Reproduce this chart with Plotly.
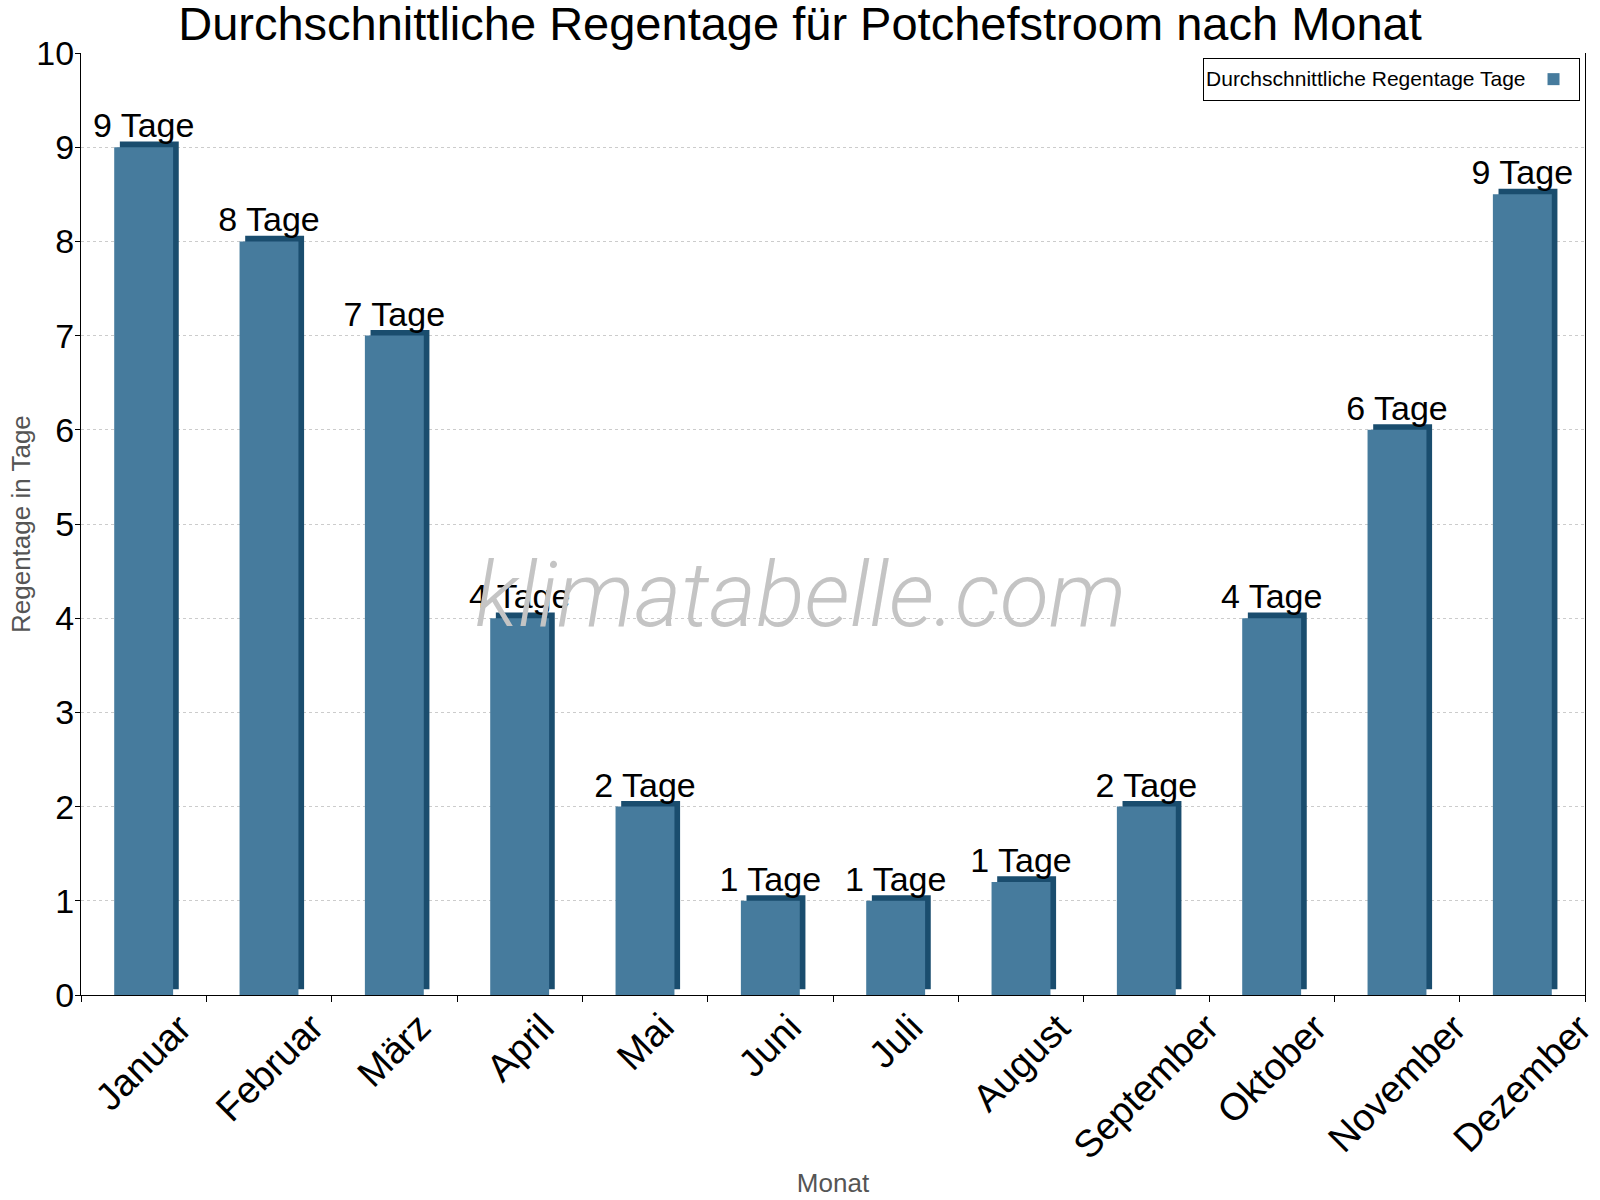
import plotly.graph_objects as go

months = ["Januar", "Februar", "März", "April", "Mai", "Juni", "Juli",
          "August", "September", "Oktober", "November", "Dezember"]
rain_days = [9, 8, 7, 4, 2, 1, 1, 1.2, 2, 4, 6, 8.5]
labels = [f"{int(v + 0.5)} Tage" for v in rain_days]

FRONT = "#467B9D"
SIDE = "#1A4D6E"
FONT = "Arial, Liberation Sans, sans-serif"

bar_w = 0.47
depth_x = 0.045   # category units (~6 px)
depth_y = 0.06    # value units (~6 px)

fig = go.Figure()
# dark "3D" side/top face
fig.add_trace(go.Bar(
    x=months, y=rain_days, base=depth_y,
    width=bar_w, offset=-bar_w / 2 + depth_x,
    marker=dict(color=SIDE, line=dict(width=0)),
    showlegend=False, hoverinfo="skip",
))
# front face
fig.add_trace(go.Bar(
    x=months, y=rain_days, name="",
    width=bar_w, offset=-bar_w / 2,
    marker=dict(color=FRONT, line=dict(width=0)),
    text=labels, textposition="outside", cliponaxis=False,
    constraintext="none",
    textfont=dict(size=34, color="black", family=FONT),
    showlegend=True,
))

# rotated month labels, centred under each category (as in the reference)
month_labels = [
    dict(text=m, x=m, xref="x", y=0, yref="paper", yshift=-8,
         xanchor="center", yanchor="top", textangle=-45, showarrow=False,
         font=dict(size=38, color="black", family=FONT))
    for m in months
]

fig.update_layout(
    width=1600, height=1200,
    barmode="overlay",
    paper_bgcolor="white", plot_bgcolor="white",
    margin=dict(l=81, r=15, t=53, b=205, autoexpand=False),
    font=dict(family=FONT, color="black"),
    title=dict(text="Durchschnittliche Regentage für Potchefstroom nach Monat",
               x=0.5, xanchor="center", y=0.980, yanchor="middle",
               font=dict(size=47, color="black", family=FONT)),
    legend=dict(
        x=0.9967, xanchor="right", y=0.9947, yanchor="top",
        bgcolor="white", bordercolor="black", borderwidth=1,
        title=dict(text="Durchschnittliche Regentage Tage", side="left",
                   font=dict(size=21, color="black", family=FONT)),
        font=dict(size=21, family=FONT),
        itemwidth=30,
    ),
    xaxis=dict(
        type="category", range=[-0.5, 11.5],
        showline=True, linecolor="black", linewidth=1,
        ticks="outside", ticklen=6, tickcolor="black", tickson="boundaries",
        showticklabels=False,
        showgrid=False, automargin=False,
        title=dict(text="Monat", standoff=178,
                   font=dict(size=26, color="#555555", family=FONT)),
    ),
    yaxis=dict(
        range=[0, 10], dtick=1,
        showline=True, linecolor="black", linewidth=1, mirror=True,
        ticks="outside", ticklen=5, tickcolor="black",
        tickfont=dict(size=34, color="black", family=FONT),
        ticklabelstandoff=-6,
        showgrid=True, gridcolor="#cccccc", griddash="dot", gridwidth=1,
        zeroline=False, automargin=False,
    ),
    annotations=[
        dict(
            text="Regentage in Tage", xref="paper", yref="paper",
            x=0, y=0.5, xshift=-60, xanchor="center", yanchor="middle",
            textangle=-90, showarrow=False,
            font=dict(size=26, color="#555555", family=FONT),
        ),
        dict(
            text="klimatabelle.com", xref="paper", yref="paper",
            x=0.4787, y=0.4246, xanchor="center", yanchor="middle",
            showarrow=False,
            font=dict(size=90, color="#c4c4c4", family="Roboto, Arial, sans-serif",
                      weight=300, style="italic"),
        ),
    ] + month_labels,
)

fig.write_html("out.html")
